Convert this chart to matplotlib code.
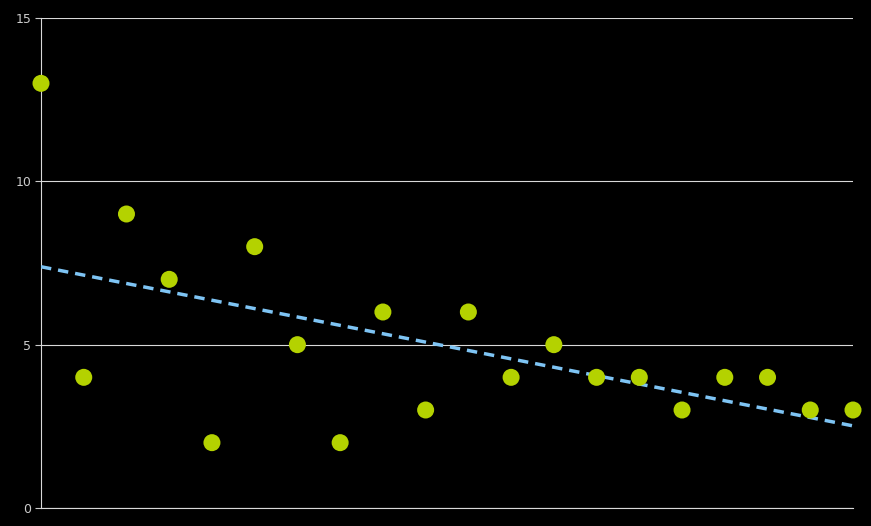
import numpy as np
import matplotlib.pyplot as plt

# Data
x_values = np.arange(20)
y_values = [13, 4, 9, 7, 2, 8, 5, 2, 6, 3, 6, 4, 5, 4, 4, 3, 4, 4, 3, 3]
y_ticks = [0, 5, 10, 15]

# Linear trend line
slope, intercept = np.polyfit(x_values, y_values, 1)
trend = slope * x_values + intercept

fig = plt.figure(figsize=(8.71, 5.26), dpi=100, facecolor='black')
ax = fig.add_axes([41 / 871, 18 / 526, 812 / 871, 490 / 526])
ax.set_facecolor('black')

ax.plot(x_values, trend, color='#7ec4f4', linewidth=2.5, dashes=(3, 2), zorder=3)
ax.scatter(x_values, y_values, s=150, color='#b4d200', edgecolors='none', zorder=4, clip_on=False)

ax.set_xlim(0, 19)
ax.set_ylim(0, 15)
ax.set_yticks(y_ticks)
ax.set_xticks([])
ax.grid(axis='y', color='#d9d9d9', linewidth=0.8)
ax.set_axisbelow(True)

for side in ['top', 'right']:
    ax.spines[side].set_visible(False)
for side in ['left', 'bottom']:
    ax.spines[side].set_color('#d9d9d9')
    ax.spines[side].set_linewidth(0.8)
ax.tick_params(axis='y', colors='#cccccc', labelsize=9, length=4, width=0.8, pad=3)

plt.savefig('out.png', dpi=100, facecolor='black')
